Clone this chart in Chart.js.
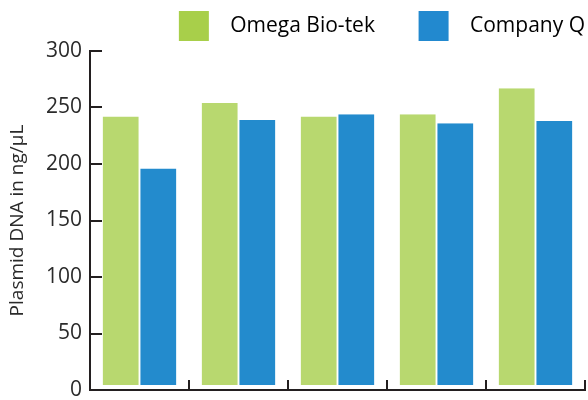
<!DOCTYPE html>
<html>
<head>
<meta charset="utf-8">
<script src="https://cdn.jsdelivr.net/npm/chart.js@4.4.0/dist/chart.umd.min.js"></script>
<style>
    html, body { margin: 0; padding: 0; background: #fff; overflow: hidden; }
    #wrap { width: 600px; height: 400px; }
</style>
</head>
<body>
<div id="wrap"><canvas id="myChart" width="600" height="400"></canvas></div>
<script>
var categories = ["1", "2", "3", "4", "5"];

var omegaData = [242, 254, 242, 244, 267];

var companyQData = [196, 239, 244, 236, 238];

var yTicks = [0, 50, 100, 150, 200, 250, 300];

var axisColor = "#231f20";
var textColor = "#2b2b2b";

const data = {
    labels: categories,
    datasets: [
        {
            label: "Omega Bio-tek",
            data: omegaData,
            backgroundColor: "#b8d86f",
            legendColor: "#a8cf4a",
            legendTail: "        "
        },
        {
            label: "Company Q",
            data: companyQData,
            backgroundColor: "#238bcd",
            legendColor: "#2289cf",
            legendTail: ""
        }
    ]
};

data.datasets.forEach((ds) => {
    ds.barPercentage = 0.96;
    ds.categoryPercentage = 0.76;
    ds.borderColor = "#ffffff";
    ds.borderWidth = { top: 0, left: 0, right: 0, bottom: 4 };
    ds.borderSkipped = false;
});

const config = {
    type: "bar",
    data: data,
    options: {
        responsive: false,
        animation: false,
        layout: {
            padding: { left: 4, right: 15, top: 11, bottom: 0 }
        },
        scales: {
            x: {
                ticks: { display: false },
                border: { color: axisColor, width: 2 },
                grid: {
                    drawOnChartArea: false,
                    color: axisColor,
                    lineWidth: 2,
                    tickLength: -10,
                    offset: true
                },
                afterFit: (axis) => { axis.height = 10; }
            },
            y: {
                min: 0,
                max: 300,
                afterBuildTicks: (axis) => {
                    axis.ticks = yTicks.map((v) => ({ value: v }));
                },
                ticks: {
                    color: textColor,
                    padding: 20,
                    font: { family: "'Open Sans'", size: 21 }
                },
                border: { color: axisColor, width: 2 },
                grid: {
                    drawOnChartArea: false,
                    color: axisColor,
                    lineWidth: 2,
                    tickLength: -12
                },
                title: {
                    display: true,
                    text: "Plasmid DNA in ng/\u00b5L",
                    color: textColor,
                    padding: { top: 2, bottom: 0 },
                    font: { family: "'Open Sans'", size: 19 }
                },
                afterFit: (axis) => {
                    axis.width = 86;
                    axis.paddingTop = 48;
                    axis.paddingBottom = 0;
                }
            }
        },
        plugins: {
            tooltip: { enabled: false },
            legend: {
                position: "top",
                align: "end",
                labels: {
                    boxWidth: 30,
                    boxHeight: 30,
                    padding: 0,
                    color: textColor,
                    font: { family: "'Open Sans'", size: 21 },
                    generateLabels: (chart) => {
                        return chart.data.datasets.map((ds, i) => ({
                            text: "  " + ds.label + ds.legendTail,
                            fillStyle: ds.legendColor,
                            strokeStyle: ds.legendColor,
                            lineWidth: 0,
                            hidden: false,
                            datasetIndex: i
                        }));
                    }
                }
            }
        }
    }
};

const ctx = document.getElementById("myChart").getContext("2d");
var myChart = new Chart(ctx, config);
</script>
</body>
</html>
